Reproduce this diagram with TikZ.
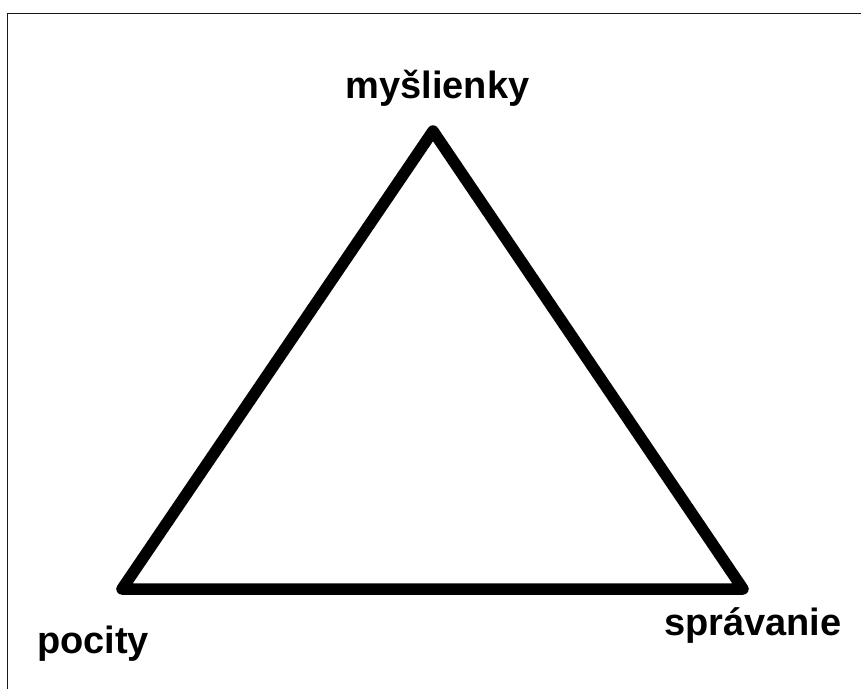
\documentclass[tikz,border=0pt]{standalone}
\usepackage{fontspec}
\setmainfont{Liberation Sans}
\begin{document}
\begin{tikzpicture}[x=1pt,y=-1pt,
  lbl/.style={font=\fontsize{38}{41}\selectfont\bfseries, inner sep=0pt, text=black},
  tri/.style={draw=black, line width=11.5pt, line join=round},
  frame/.style={draw=black!90, line width=1.3pt}]
\useasboundingbox (0,0) rectangle (861,689);
\fill[white] (0,0) rectangle (861,689);
\coordinate (fb) at (7.5,689);
\coordinate (fc) at (7.5,13.5);
\coordinate (fr) at (861,13.5);
\draw[frame] (fb) -- (fc) -- (fr);
\coordinate (top) at (433,131);
\coordinate (bl) at (122,589);
\coordinate (br) at (743,589);
\draw[tri] (top) -- (bl) -- (br) -- cycle;
\node[lbl, anchor=base] (m) at (437.5,98) {myšlienky};
\node[lbl, anchor=base west] (p) at (37,653) {pocity};
\node[lbl, anchor=base west] (s) at (664,635) {správanie};
\end{tikzpicture}
\end{document}
